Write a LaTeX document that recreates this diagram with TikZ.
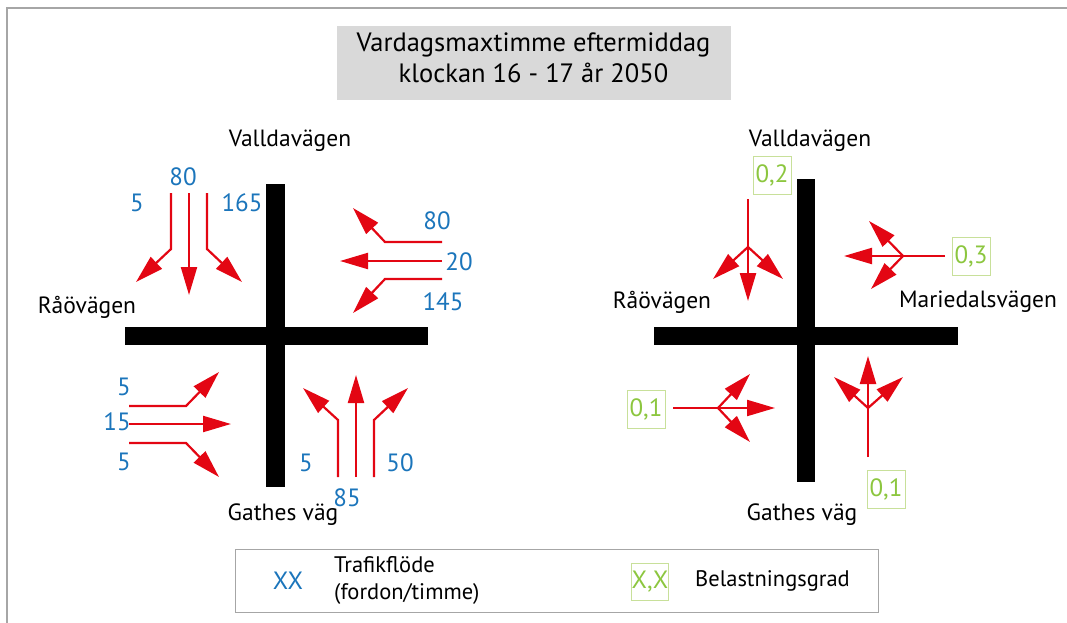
\documentclass[tikz,border=0pt]{standalone}
\usepackage{fontspec}
\setmainfont{PT Sans}
\usetikzlibrary{arrows.meta}
\definecolor{rd}{HTML}{E30613}
\definecolor{bl}{HTML}{1B75BB}
\definecolor{gr}{HTML}{8CC63F}
\definecolor{grb}{HTML}{C8E09A}
\definecolor{fr}{HTML}{A6A6A6}
\definecolor{tg}{HTML}{D9D9D9}
\begin{document}
\begin{tikzpicture}[x=1pt,y=-1pt,
  arr/.style={draw=rd, line width=2.2pt, -{Triangle[length=28pt,width=16pt]}},
  stem/.style={draw=rd, line width=2.2pt},
  road/.style={fill=black},
  num/.style={text=bl, font=\fontsize{25}{25}\selectfont, inner sep=0pt},
  lab/.style={font=\fontsize{23.5}{23.5}\selectfont, inner sep=0pt},
  gbox/.style={draw=grb, line width=1pt, text=gr, font=\fontsize{25}{25}\selectfont, minimum width=38pt, minimum height=38pt, inner sep=0pt}
]
\useasboundingbox (0,0) rectangle (1067,623);
\draw[fr, line width=1.5pt] (7,623) -- (7,8) -- (1067,8);

% title
\node[fill=tg, minimum width=394pt, minimum height=74pt, inner sep=0pt] (titlebox) at (533.5,63) {};
\node[font=\fontsize{26.5}{31}\selectfont, align=center, inner sep=0pt] (title) at (533.5,58) {Vardagsmaxtimme eftermiddag\\klockan 16 - 17 år 2050};

% ---------- left intersection ----------
\fill[road] (266,184) rectangle (285,487);
\fill[road] (125,327) rectangle (428,345);
\node[lab] (lv) at (290,141) {Valldavägen};
\node[lab] (lr) at (87,307) {Råövägen};
\node[lab] (lg) at (283,515) {Gathes väg};

\node[num] (n1) at (137,203) {5};
\node[num] (n2) at (183,177) {80};
\node[num] (n3) at (242,203) {165};
\node[num] (n4) at (437,221) {80};
\node[num] (n5) at (459,262) {20};
\node[num] (n6) at (443,302) {145};
\node[num] (n7) at (124,387) {5};
\node[num] (n8) at (117,422) {15};
\node[num] (n9) at (124,462) {5};
\node[num] (n10) at (306,463) {5};
\node[num] (n11) at (347,498) {85};
\node[num] (n12) at (400,463) {50};

% southbound
\draw[arr] (171,193) -- (171,249) -- (136,282);
\draw[arr] (189,193) -- (189,295);
\draw[arr] (207,193) -- (207,249) -- (242,282);
% westbound
\draw[arr] (442,242) -- (385,242) -- (353,208);
\draw[arr] (442,261) -- (340,261);
\draw[arr] (442,279) -- (385,279) -- (353,313);
% eastbound
\draw[arr] (129,406) -- (186,406) -- (219,372);
\draw[arr] (129,424) -- (231,424);
\draw[arr] (129,443) -- (186,443) -- (219,477);
% northbound
\draw[arr] (338,477) -- (338,420) -- (303,388);
\draw[arr] (356,477) -- (356,375);
\draw[arr] (374,477) -- (374,420) -- (408,388);

% ---------- right intersection ----------
\fill[road] (797,179) rectangle (815,482);
\fill[road] (654,327) rectangle (958,345);
\node[lab] (rv) at (810,141) {Valldavägen};
\node[lab] (rr) at (662,302) {Råövägen};
\node[lab] (rm) at (978,302) {Mariedalsvägen};
\node[lab] (rg) at (802,515) {Gathes väg};

\node[gbox] (g1) at (772,175) {0,2};
\node[gbox] (g2) at (971,256) {0,3};
\node[gbox] (g3) at (646,409) {0,1};
\node[gbox] (g4) at (886,489) {0,1};

% southbound fan
\coordinate (sb) at (748,247);
\draw[stem] (748,199) -- (sb);
\draw[arr] (sb) -- (748,301);
\draw[arr] (sb) -- (713,279);
\draw[arr] (sb) -- (783,279);
% westbound fan
\coordinate (wb) at (903,256);
\draw[stem] (945,256) -- (wb);
\draw[arr] (wb) -- (844,256);
\draw[arr] (wb) -- (869,221);
\draw[arr] (wb) -- (871,289);
% eastbound fan
\coordinate (eb) at (718,408);
\draw[stem] (673,408) -- (eb);
\draw[arr] (eb) -- (775,408);
\draw[arr] (eb) -- (750,374);
\draw[arr] (eb) -- (750,442);
% northbound fan
\coordinate (nb) at (868,408);
\draw[stem] (868,457) -- (nb);
\draw[arr] (nb) -- (868,356);
\draw[arr] (nb) -- (834,377);
\draw[arr] (nb) -- (903,377);

% ---------- legend ----------
\node[draw=fr, line width=1pt, minimum width=643pt, minimum height=63pt, inner sep=0pt] (legend) at (556.5,580.5) {};
\node[num] (lxx) at (288,581) {XX};
\node[font=\fontsize{22.5}{27}\selectfont, align=left, anchor=west, inner sep=0pt] (ltf) at (334,580) {Trafikflöde\\(fordon/timme)};
\node[gbox, minimum width=37pt, minimum height=37pt] (lxb) at (650,582) {X,X};
\node[font=\fontsize{22.5}{22.5}\selectfont, anchor=west, inner sep=0pt] (lbg) at (695,581) {Belastningsgrad};
\end{tikzpicture}
\end{document}
